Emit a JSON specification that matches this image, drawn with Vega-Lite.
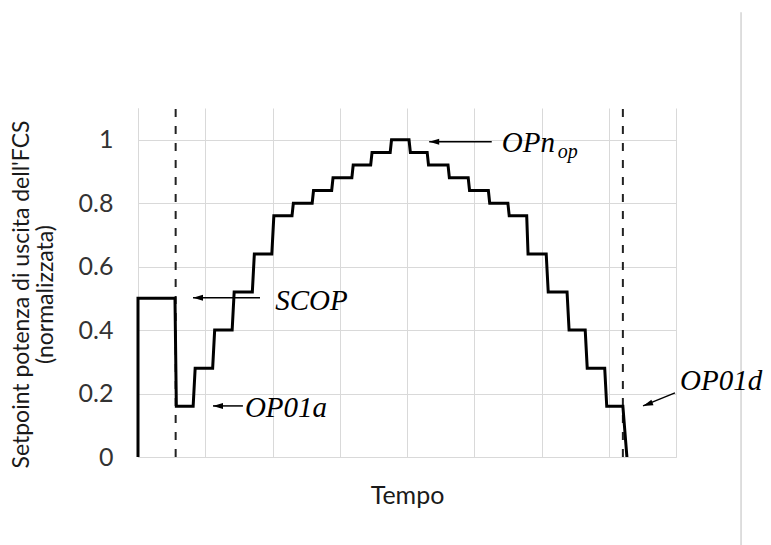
{
  "$schema": "https://vega.github.io/schema/vega-lite/v6.json",
  "width": 538,
  "height": 349,
  "autosize": {"type": "none"},
  "padding": {"left": 138, "top": 108, "right": 95, "bottom": 88},
  "background": "white",
  "config": {"view": {"stroke": null}, "font": "Lato"},
  "datasets": {
    "curve": [
      {"i": 1, "t": 0, "v": 0},
      {"i": 2, "t": 0, "v": 0.5},
      {"i": 3, "t": 0.55, "v": 0.5},
      {"i": 4, "t": 0.57, "v": 0.16},
      {"i": 5, "t": 0.82, "v": 0.16},
      {"i": 6, "t": 0.85, "v": 0.28},
      {"i": 7, "t": 1.11, "v": 0.28},
      {"i": 8, "t": 1.14, "v": 0.4},
      {"i": 9, "t": 1.4, "v": 0.4},
      {"i": 10, "t": 1.43, "v": 0.52},
      {"i": 11, "t": 1.7, "v": 0.52},
      {"i": 12, "t": 1.73, "v": 0.64},
      {"i": 13, "t": 1.99, "v": 0.64},
      {"i": 14, "t": 2.02, "v": 0.76},
      {"i": 15, "t": 2.29, "v": 0.76},
      {"i": 16, "t": 2.31, "v": 0.8},
      {"i": 17, "t": 2.59, "v": 0.8},
      {"i": 18, "t": 2.61, "v": 0.84},
      {"i": 19, "t": 2.88, "v": 0.84},
      {"i": 20, "t": 2.9, "v": 0.88},
      {"i": 21, "t": 3.18, "v": 0.88},
      {"i": 22, "t": 3.2, "v": 0.92},
      {"i": 23, "t": 3.46, "v": 0.92},
      {"i": 24, "t": 3.48, "v": 0.96},
      {"i": 25, "t": 3.75, "v": 0.96},
      {"i": 26, "t": 3.77, "v": 1.0},
      {"i": 27, "t": 4.03, "v": 1.0},
      {"i": 28, "t": 4.05, "v": 0.96},
      {"i": 29, "t": 4.3, "v": 0.96},
      {"i": 30, "t": 4.32, "v": 0.92},
      {"i": 31, "t": 4.61, "v": 0.92},
      {"i": 32, "t": 4.63, "v": 0.88},
      {"i": 33, "t": 4.91, "v": 0.88},
      {"i": 34, "t": 4.93, "v": 0.84},
      {"i": 35, "t": 5.21, "v": 0.84},
      {"i": 36, "t": 5.23, "v": 0.8},
      {"i": 37, "t": 5.5, "v": 0.8},
      {"i": 38, "t": 5.52, "v": 0.76},
      {"i": 39, "t": 5.78, "v": 0.76},
      {"i": 40, "t": 5.8, "v": 0.64},
      {"i": 41, "t": 6.07, "v": 0.64},
      {"i": 42, "t": 6.1, "v": 0.52},
      {"i": 43, "t": 6.38, "v": 0.52},
      {"i": 44, "t": 6.41, "v": 0.4},
      {"i": 45, "t": 6.65, "v": 0.4},
      {"i": 46, "t": 6.68, "v": 0.28},
      {"i": 47, "t": 6.94, "v": 0.28},
      {"i": 48, "t": 6.97, "v": 0.16},
      {"i": 49, "t": 7.21, "v": 0.16},
      {"i": 50, "t": 7.27, "v": 0}
    ],
    "dashed": [
      {"t": 0.56, "v": 0, "v2": 1.1},
      {"t": 7.21, "v": 0, "v2": 1.1}
    ],
    "arrows": [
      {"name": "SCOP", "t": 1.814, "v": 0.502, "t2": 0.818, "v2": 0.502},
      {"name": "OP01a", "t": 1.56, "v": 0.161, "t2": 1.115, "v2": 0.161},
      {"name": "OPn", "t": 5.26, "v": 0.994, "t2": 4.33, "v2": 0.994},
      {"name": "OP01d", "t": 7.985, "v": 0.202, "t2": 7.51, "v2": 0.161}
    ],
    "heads": [
      {"name": "SCOP", "t": 0.818, "v": 0.502},
      {"name": "OP01a", "t": 1.115, "v": 0.161},
      {"name": "OPn", "t": 4.33, "v": 0.994}
    ],
    "diaghead": [
      {"name": "OP01d", "t": 7.51, "v": 0.161}
    ],
    "labels": [
      {"label": "SCOP", "t": 2.04, "v": 0.463},
      {"label": "OP01a", "t": 1.59, "v": 0.126},
      {"label": "OPn", "t": 5.41, "v": 0.961},
      {"label": "OP01d", "t": 8.06, "v": 0.211}
    ],
    "subs": [
      {"label": "op", "t": 6.24, "v": 0.943}
    ],
    "page": [
      {"t": 8.967, "v": 1.402, "v2": -0.277}
    ]
  },
  "encoding": {
    "x": {
      "field": "t",
      "type": "quantitative",
      "scale": {"domain": [0, 8], "nice": false, "zero": false},
      "axis": {
        "title": "Tempo",
        "values": [0, 1, 2, 3, 4, 5, 6, 7, 8],
        "labels": false,
        "ticks": false,
        "grid": true,
        "gridColor": "#d9d9d9",
        "domainColor": "#d9d9d9",
        "titleFont": "Lato",
        "titleFontSize": 25,
        "titleFontWeight": "normal",
        "titleColor": "#1a1a1a",
        "titlePadding": 26
      }
    },
    "y": {
      "field": "v",
      "type": "quantitative",
      "scale": {"domain": [0, 1.1], "nice": false},
      "axis": {
        "title": ["Setpoint  potenza di uscita dell'FCS", "(normalizzata)"],
        "values": [0, 0.2, 0.4, 0.6, 0.8, 1],
        "format": "~g",
        "ticks": false,
        "grid": true,
        "gridColor": "#d9d9d9",
        "domainColor": "#d9d9d9",
        "labelFont": "Lato",
        "labelFontSize": 25,
        "labelColor": "#333333",
        "labelPadding": 25,
        "titleFont": "Lato",
        "titleFontSize": 23,
        "titleFontWeight": "normal",
        "titleColor": "#1a1a1a",
        "titleLineHeight": 24,
        "titleAngle": -90,
        "titleAlign": "center",
        "titleBaseline": "middle",
        "titleX": -117,
        "titleY": 186
      }
    }
  },
  "layer": [
    {
      "data": {"name": "page"},
      "mark": {"type": "rule", "color": "#c8c8c8", "strokeWidth": 1.2, "clip": false},
      "encoding": {"y2": {"field": "v2"}}
    },
    {
      "data": {"name": "dashed"},
      "mark": {"type": "rule", "color": "#222222", "strokeWidth": 2, "strokeDash": [8, 9]},
      "encoding": {"y2": {"field": "v2"}}
    },
    {
      "data": {"name": "curve"},
      "mark": {"type": "line", "color": "black", "strokeWidth": 3, "strokeJoin": "miter"},
      "encoding": {"order": {"field": "i", "type": "quantitative"}}
    },
    {
      "data": {"name": "arrows"},
      "mark": {"type": "rule", "color": "black", "strokeWidth": 1.5},
      "encoding": {"x2": {"field": "t2"}, "y2": {"field": "v2"}}
    },
    {
      "data": {"name": "heads"},
      "mark": {"type": "point", "shape": "M0,0 L2,-0.6 L2,0.6 Z", "size": 100, "filled": true, "color": "black", "opacity": 1}
    },
    {
      "data": {"name": "diaghead"},
      "mark": {"type": "point", "shape": "M0,0 L2,-0.6 L2,0.6 Z", "size": 100, "filled": true, "color": "black", "opacity": 1, "angle": 340}
    },
    {
      "data": {"name": "labels"},
      "mark": {"type": "text", "font": "Liberation Serif", "fontStyle": "italic", "fontSize": 29, "align": "left", "baseline": "alphabetic", "color": "black", "clip": false},
      "encoding": {"text": {"field": "label"}}
    },
    {
      "data": {"name": "subs"},
      "mark": {"type": "text", "font": "Liberation Serif", "fontStyle": "italic", "fontSize": 20, "align": "left", "baseline": "alphabetic", "color": "black"},
      "encoding": {"text": {"field": "label"}}
    }
  ]
}
